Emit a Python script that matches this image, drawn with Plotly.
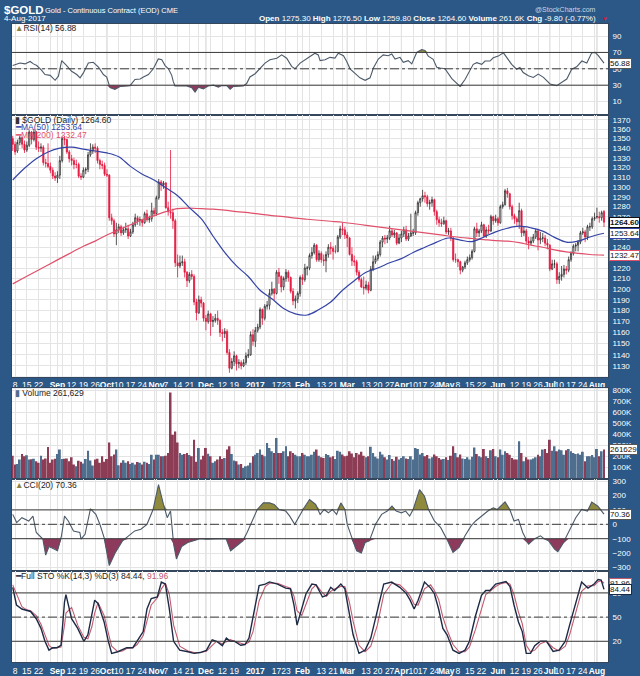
import numpy as np
import pandas as pd
import plotly.graph_objects as go

# ---------------- categories (trading days) ----------------
START, END = "2016-08-05", "2017-08-04"
HOLIDAYS = ["2016-09-05", "2016-11-24", "2016-12-26", "2017-01-02", "2017-01-16",
            "2017-02-20", "2017-04-14", "2017-05-29", "2017-07-04"]
dates = pd.bdate_range(START, END).drop(pd.to_datetime(HOLIDAYS))
N = len(dates)
DAY = list(range(N))

# ---------------- price data ----------------
OPEN = [1350,1344,1337,1346,1351,1344,1338,1343,1357,1349,
        1357,1341,1340,1341,1325,1324,1321,1317,1311,1309,
        1312,1327,1350,1349,1336,1329,1327,1323,1323,1311,
        1310,1317,1318,1333,1337,1341,1340,1327,1323,1322,
        1313,1312,1269,1266,1253,1257,1260,1254,1257,1258,
        1251,1255,1262,1269,1266,1267,1264,1273,1267,1268,
        1276,1273,1289,1305,1302,1304,1279,1275,1274,1266,
        1225,1222,1225,1226,1216,1208,1214,1212,1188,1178,
        1190,1187,1173,1170,1177,1170,1171,1173,1171,1160,
        1159,1161,1142,1128,1134,1139,1132,1133,1130,1133,
        1139,1140,1158,1152,1162,1165,1181,1173,1184,1185,
        1196,1200,1196,1216,1212,1202,1210,1216,1211,1198,
        1189,1191,1196,1211,1209,1220,1220,1232,1235,1242,
        1228,1234,1228,1227,1233,1240,1239,1236,1236,1250,
        1258,1257,1252,1249,1233,1227,1226,1216,1209,1202,
        1201,1204,1199,1219,1226,1229,1233,1245,1249,1248,
        1249,1256,1252,1254,1244,1249,1253,1257,1248,1251,
        1254,1254,1274,1284,1288,1291,1290,1283,1284,1287,
        1275,1267,1264,1263,1266,1255,1256,1249,1228,1228,
        1226,1218,1221,1225,1228,1230,1236,1258,1254,1256,
        1262,1251,1257,1256,1270,1266,1268,1264,1280,1282,
        1296,1293,1280,1271,1268,1265,1276,1254,1256,1246,
        1244,1246,1250,1256,1247,1249,1249,1244,1242,1219,
        1224,1224,1209,1212,1214,1219,1218,1228,1234,1241,
        1242,1245,1254,1255,1250,1260,1260,1268,1270,1270,
        1269,1275.3]
HIGH = [1353,1347,1349,1353,1352,1348,1347,1359,1358,1360,
        1358,1347,1345,1343,1329,1345,1325,1320,1315,1316,
        1332,1352,1353,1350,1338,1333,1330,1328,1325,1314,
        1320,1320,1336,1345,1344,1345,1342,1329,1327,1325,
        1318,1313,1273,1268,1264,1263,1262,1260,1264,1262,
        1258,1265,1273,1271,1270,1268,1275,1277,1271,1284,
        1279,1291,1308,1307,1306,1305,1285,1338,1278,1268,
        1233,1232,1232,1229,1217,1216,1218,1214,1191,1194,
        1193,1188,1176,1180,1178,1175,1177,1180,1172,1163,
        1164,1163,1145,1137,1143,1140,1136,1135,1136,1142,
        1145,1161,1163,1165,1168,1183,1182,1186,1189,1200,
        1207,1201,1218,1220,1213,1212,1219,1218,1212,1201,
        1194,1198,1213,1214,1224,1222,1234,1240,1244,1243,
        1237,1236,1233,1236,1243,1245,1241,1242,1252,1261,
        1264,1260,1255,1250,1240,1232,1228,1218,1211,1212,
        1208,1207,1222,1232,1232,1236,1247,1251,1252,1252,
        1261,1258,1257,1255,1253,1256,1260,1261,1254,1273,
        1258,1276,1286,1289,1297,1295,1292,1287,1290,1288,
        1277,1270,1268,1270,1267,1259,1259,1250,1234,1229,
        1227,1222,1227,1231,1233,1238,1260,1264,1258,1265,
        1263,1260,1262,1272,1271,1272,1270,1282,1285,1298,
        1299,1294,1282,1273,1270,1284,1278,1260,1258,1250,
        1250,1253,1258,1258,1255,1254,1252,1248,1243,1228,
        1228,1226,1216,1222,1223,1222,1231,1236,1243,1244,
        1247,1256,1259,1257,1262,1264,1270,1274,1279,1275,
        1276,1276.5]
LOW = [1337,1333,1335,1343,1340,1335,1336,1341,1344,1347,
       1338,1336,1336,1322,1320,1319,1314,1308,1306,1304,
       1308,1325,1343,1334,1325,1322,1318,1319,1309,1307,
       1309,1313,1315,1331,1334,1335,1324,1318,1318,1311,
       1310,1266,1262,1250,1242,1254,1251,1252,1254,1248,
       1250,1253,1260,1262,1261,1260,1263,1265,1264,1265,
       1270,1271,1287,1296,1298,1278,1271,1268,1258,1221,
       1211,1220,1222,1211,1202,1206,1209,1185,1171,1177,
       1183,1170,1162,1168,1157,1165,1169,1167,1156,1152,
       1155,1140,1124,1127,1130,1126,1128,1127,1129,1131,
       1137,1139,1148,1147,1160,1163,1167,1171,1181,1181,
       1194,1190,1195,1205,1197,1199,1207,1207,1196,1185,
       1182,1187,1193,1204,1207,1213,1218,1229,1233,1226,
       1226,1225,1222,1216,1230,1233,1228,1234,1235,1248,
       1252,1248,1240,1232,1222,1222,1213,1207,1201,1195,
       1199,1196,1198,1217,1224,1227,1231,1240,1243,1244,
       1247,1250,1249,1242,1243,1245,1250,1246,1246,1250,
       1251,1252,1271,1280,1285,1284,1280,1277,1280,1271,
       1262,1260,1260,1262,1253,1252,1246,1226,1225,1221,
       1214,1216,1219,1223,1226,1228,1235,1250,1250,1254,
       1249,1249,1253,1255,1262,1264,1261,1263,1278,1281,
       1289,1277,1267,1263,1261,1258,1250,1251,1243,1238,
       1242,1244,1248,1237,1243,1245,1241,1238,1217,1218,
       1220,1205,1205,1208,1211,1214,1216,1226,1232,1236,
       1236,1243,1252,1245,1247,1256,1258,1266,1268,1264,
       1266,1259.8]
CLOSE = [1344,1336,1346,1351,1344,1338,1343,1357,1349,1357,
         1341,1340,1341,1325,1324,1321,1317,1311,1309,1312,
         1327,1350,1349,1336,1329,1327,1323,1323,1311,1310,
         1317,1318,1333,1337,1341,1340,1327,1323,1322,1313,
         1312,1269,1266,1253,1257,1260,1254,1257,1258,1251,
         1255,1262,1269,1266,1267,1264,1273,1267,1268,1276,
         1273,1289,1305,1302,1304,1279,1275,1274,1266,1225,
         1222,1225,1226,1216,1208,1214,1212,1188,1178,1190,
         1187,1173,1170,1177,1170,1171,1173,1171,1160,1159,
         1161,1142,1128,1134,1139,1132,1133,1130,1133,1139,
         1140,1158,1152,1162,1165,1181,1173,1184,1185,1196,
         1200,1196,1216,1212,1202,1210,1216,1211,1198,1189,
         1191,1196,1211,1209,1220,1220,1232,1235,1242,1228,
         1234,1228,1227,1233,1240,1239,1236,1236,1250,1258,
         1257,1252,1249,1233,1227,1226,1216,1209,1202,1201,
         1204,1199,1219,1226,1229,1233,1245,1249,1248,1249,
         1256,1252,1254,1244,1249,1253,1257,1248,1251,1254,
         1254,1274,1284,1288,1291,1290,1283,1284,1287,1275,
         1267,1264,1263,1266,1255,1256,1249,1228,1228,1226,
         1218,1221,1225,1228,1230,1236,1258,1254,1256,1262,
         1251,1257,1256,1270,1266,1268,1264,1280,1282,1296,
         1293,1280,1271,1268,1265,1276,1254,1256,1246,1244,
         1246,1250,1256,1247,1249,1249,1244,1242,1219,1224,
         1224,1209,1212,1214,1219,1218,1228,1234,1241,1242,
         1245,1254,1255,1250,1260,1260,1268,1269,1270,1269,
         1274,1264.6]
VOLUME_K = [205,125,130,170,220,199,208,170,172,178,
            154,140,205,170,180,284,140,170,178,220,
            260,175,178,180,154,190,125,110,160,150,
            135,175,250,161,115,170,178,140,199,150,
            175,325,200,215,260,118,140,164,140,154,
            130,140,125,148,140,125,150,140,130,214,
            170,214,214,199,199,205,230,779,395,425,
            325,229,214,220,229,210,200,349,150,275,
            170,205,275,223,199,140,154,170,200,175,
            185,260,290,220,161,154,125,130,94,110,
            115,140,199,214,230,260,214,199,320,275,
            245,229,365,230,230,245,290,199,245,230,
            214,199,199,230,214,199,199,214,240,260,
            205,190,185,220,210,190,200,175,250,240,
            215,200,205,245,225,190,230,215,240,205,
            190,200,285,230,195,180,240,215,190,170,
            210,175,160,195,170,185,200,180,175,200,
            170,275,265,215,230,200,210,180,190,215,
            200,185,170,175,190,165,205,290,230,190,
            215,180,175,190,170,195,280,220,199,190,
            266,199,185,254,266,199,190,260,214,245,
            229,214,185,170,170,335,229,154,190,170,
            170,180,190,214,199,260,266,230,349,250,
            290,245,260,254,214,254,266,245,229,220,
            225,214,240,154,199,199,210,190,266,200,
            245,261.629]

# moving averages (sampled along the curves)
MA_DAY = [0,5,10,15,20,25,30,35,40,45,50,55,60,65,70,75,80,85,90,95,100,105,110,115,120,
          125,130,135,140,145,150,155,160,165,170,175,180,185,190,195,200,205,210,215,220,
          225,230,235,240,245,251]
MA50 = [1307,1319,1329,1336,1340,1341,1339,1337,1335,1331,1321,1313,1307,1299,1291,1279,1268,
        1251,1235,1222,1212,1199,1191,1182,1177,1176,1181,1188,1199,1208,1216,1220,1225,1229,
        1235,1240,1245,1249,1247,1245.5,1250,1255,1258.6,1260.6,1259,1255.7,1249.6,1245,1246,
        1250,1253.64]
MA200 = [1205,1211,1217,1223,1229,1235,1241,1246,1252,1257,1262,1267,1271,1275,1278,1278.5,1278,
         1277.5,1276.5,1275,1274,1272.5,1271,1270,1268.5,1267.5,1266.5,1265.5,1264.5,1263,1261.5,
         1260,1258.5,1257,1255.5,1254,1252.5,1251,1249.5,1248.5,1247.5,1246.5,1246,1244.5,1242,
         1240,1237.5,1235.5,1234,1233,1232.47]

# RSI(14)
RSI_DAY = [0,3.1,5.2,7.4,8.8,10.2,12.3,13.7,15.9,18,19.4,20.8,22.9,25,27.2,28.6,30,32.1,34.2,
           36.4,38.5,39.9,41.3,43.4,45.6,47.7,49.8,51.9,54.1,55.5,57.6,59.7,61.8,63.3,64.7,66.1,
           67.5,68.2,68.9,71.8,73.9,76,77.4,78.8,80.9,83,85.2,87.3,88.7,90.9,92.3,93.7,95.8,97.9,
           99.3,100.7,102.9,105,107.1,109.2,112.1,114.2,116.3,118.4,119.8,122,124.1,126.2,128.3,
           129.7,130.5,132.6,134.7,136.8,138.2,140.4,141.8,143.2,145.3,147.4,149.6,151.7,153.1,
           155.2,157.3,159.4,160.9,162.3,164.4,165.8,167.9,169.4,171.5,173.6,175,176.4,178.5,180,
           181.4,183.5,186.4,188.5,189.9,192,194.1,195.5,197,199.1,200.5,202.6,204,206.1,208.3,
           209.7,211.8,213.9,215.3,216.7,218.9,221,223.1,225.3,228.1,230.9,232.3,235.2,237.3,
           239.4,241.6,243.7,245.8,247.2,248.6,251]
RSI_VAL = [54,57,56,59,56,54,48,43,42,36,41,60,54,47,43,39,45,57,58,52,43,40,27,25,28.5,29,29.5,
           37,37.5,40,43,50,62,61,54,50,42,34,29,29,29,27,21.5,27.5,25.5,29,30,27.5,29.5,29.5,25,
           28.5,29,29,32,40,44,50,57,61,63,67,63,53,50,57,61,64,69,67,60,61,64,63,69,66,59,50,45,
           39,36,39,51,62,67,66,68,62,64,58,60,56,70,73.5,72.5,65.5,61.5,52,51,50,38,32,28.5,37,
           47.5,55.5,57.5,55.5,59.5,59.5,63.5,65.5,69.5,64,55.5,49.5,51.5,45.5,41.5,39.5,43.5,
           39.5,31.5,29.5,32,37.5,49.5,52.5,59.5,57,69.5,70,66,56.88]

# CCI(20)
CCI_DAY = [0,1.7,3.9,6.8,8.6,10,12.8,14,15.4,18,19,20.7,22,23.6,25.8,28.5,29,30.7,33,35.3,37,
           38.8,41,43.6,46.6,49.2,51.8,54.4,57,59.6,61.9,64,65.6,67,68.3,69.5,71.7,74.3,77,79.6,
           82,84.9,88,90.6,92.5,95,97.7,99.5,101,103.8,106.4,109,111,113,115.9,117.6,119.7,122,
           123.7,126,128.6,130.5,132.2,134,135.7,137.5,139.3,141,142,143.7,146,148,149.6,151.4,
           154,156.6,159,161,162.8,165,166.8,168.5,170,172.7,174.8,176.5,179,181.7,184.3,186.9,
           189.5,192,194.6,196.5,199,201.7,204,205.7,209,211,212.8,214.7,216.5,219,221.6,224,
           225.8,227.5,230,231.4,233.4,236,239,241.5,244,245.8,248.4,250,251]
CCI_VAL = [69,12,46,23,57,-57,-103,-214,-154,-172,-184,-80,57,23,-46,-57,-103,-69,108,69,0,
           -92,-287,-195,-115,-80,-46,-34,0,103,276,138,46,92,-138,-241,-154,-126,-115,-100,
           -103,-103,-103,-100,-184,-150,-115,-57,0,103,149,149,138,103,92,57,0,69,115,172,138,
           69,103,80,103,69,149,103,0,-80,-184,-200,-126,-115,0,69,92,126,92,80,92,57,103,241,
           195,103,23,-23,-103,-195,-160,-80,-11,23,57,92,115,103,156,103,23,34,-57,-138,-100,
           -80,-103,-115,-172,-190,-138,-57,46,103,92,154,126,92,70.36]

# Full STO %K(14,3) %D(3)
STO_DAY = [0,1.6,3.9,6,7.6,10,12,13.7,15.4,17,18.8,20.5,22,22.6,25,27.6,30.2,31.9,33.6,34.8,
           36.2,38.8,40.6,42,44.6,46.6,48.4,51,52.8,55.4,57,58.8,61.4,63.1,64.8,66.5,68.3,70.9,
           74.4,77,79.6,82.2,84.7,86.5,89,90.7,92.4,94.1,96.8,98.6,100.3,102,104.6,107.2,109,
           112.4,115.9,117.9,119.4,120.7,122.7,124.5,127,128.8,131.5,133.2,135,136.6,139.3,141,
           142.8,144.5,147,149.6,152,154.8,157.5,160.9,164.3,166.9,168.7,170.4,172.1,174.8,
           177.4,179,180.8,182.6,184.4,186.9,189.5,192,193.9,196.5,199,200.8,202.6,205,206.9,
           209.4,211.1,212.8,214.7,216.3,218,219.8,221.6,224,226.6,229.4,231.9,234.6,236.4,239,
           241.5,244.2,246.8,248.5,249.8,251]
STO_K = [87,65,60,58,57,48,36,20,9,12,12,15,69,78,48,36,20,28,52,71,67,44,20,5,7,10,12,12,20,
         32,60,73,75,93.5,91,60,20,9,7,5,6,8.6,21.7,20,14.6,24,20,20,15,16,24,48,89,91,93.7,91,
         86,85,65,40,60,79,91,90,75,77,87,83,91,85,56,28,5,9,24,60,91,93.5,87,80,71,60,71,93.5,
         86,79,60,36,28,9,5,9,20,52,77,83,83,91,92,94,88,65,44,32,5,5,14.6,20,20,7.4,9,20,40,
         69,93.5,86,91,96.7,96,84.44]
STO_D = [90,78,63,59,58,52,41,28,15,11,12,13,40,55,62,40,25,23,38,55,68,52,30,14,7,8,11,12,
         16,27,45,65,74,85,92,78,40,14,8,6,6,7.5,15,20,17,20,22,20,17,16,19,32,70,88,92,92,88,
         86,76,58,52,66,85,90,80,76,82,85,88,88,70,45,15,7,14,40,78,92,90,83,76,66,65,85,90,83,
         72,50,34,16,7,7,13,35,62,78,82,88,91,93,91,78,56,42,15,7,9,17,20,12,8,14,28,55,82,89,
         89,94,95,91.96]

# x-axis tick labels
TICK_DATES = ["2016-08-08", "2016-08-15", "2016-08-22", "2016-09-01", "2016-09-12", "2016-09-19",
              "2016-09-26", "2016-10-03", "2016-10-10", "2016-10-17", "2016-10-24", "2016-11-01",
              "2016-11-07", "2016-11-14", "2016-11-21", "2016-12-01", "2016-12-12", "2016-12-19",
              "2017-01-03", "2017-01-17", "2017-01-23", "2017-02-01", "2017-02-13", "2017-02-21",
              "2017-03-01", "2017-03-13", "2017-03-20", "2017-03-27", "2017-04-03", "2017-04-10",
              "2017-04-17", "2017-04-24", "2017-05-01", "2017-05-08", "2017-05-15", "2017-05-22",
              "2017-06-01", "2017-06-12", "2017-06-19", "2017-06-26", "2017-07-03", "2017-07-10",
              "2017-07-17", "2017-07-24", "2017-08-01"]
TICK_TEXT = ["8", "15", "22", "Sep", "12", "19", "26", "Oct", "10", "17", "24", "Nov", "7", "14",
             "21", "Dec", "12", "19", "2017", "17", "23", "Feb", "13", "21", "Mar", "13", "20",
             "27", "Apr", "10", "17", "24", "May", "8", "15", "22", "Jun", "12", "19", "26", "Jul",
             "10", "17", "24", "Aug"]

# ---------------- styling ----------------
BG = "#2b5886"
FONT = "Liberation Sans, Arial, sans-serif"
OLIVE = "#8f8a3e"
MAROON = "#8e3a5c"
LINE = "#4c5a6a"
W, H = 640, 676
X0, X1 = 12 / W, 608 / W
XR = [-0.3, 252.7]


def py(y):
    return 1 - y / H


DOM = {
    "rsi": [py(112.7), py(20.7)],
    "main": [py(376.7), py(112.7)],
    "vol": [py(480), py(388)],
    "cci": [py(572), py(480)],
    "sto": [py(664.3), py(572)],
}

dix = {d: i for i, d in enumerate(dates.strftime("%Y-%m-%d"))}
label_idx = [dix[d] for d in TICK_DATES]
label_map = {i: t for i, t in zip(label_idx, TICK_TEXT)}
month_idx = [i for i, t in zip(label_idx, TICK_TEXT) if not t.isdigit() or t == "2017"]
week_idx = [i for i in range(N) if i == 0 or dates[i].weekday() < dates[i - 1].weekday()]
tickvals = sorted(set(week_idx) | set(label_idx))
ticktext = []
for i in tickvals:
    t = label_map.get(i, "")
    if t and (not t.isdigit() or t == "2017"):
        t = "<b>" + t + "</b>"
    ticktext.append(t)

fig = go.Figure()

# ---------------- RSI panel ----------------
rsi = np.array(RSI_VAL, dtype=float)
fig.add_trace(go.Scatter(x=RSI_DAY, y=[70] * len(rsi), mode="lines", line=dict(width=0),
                         xaxis="x", yaxis="y", hoverinfo="skip"))
fig.add_trace(go.Scatter(x=RSI_DAY, y=np.maximum(rsi, 70), mode="lines", line=dict(width=0),
                         fill="tonexty", fillcolor=OLIVE, xaxis="x", yaxis="y", hoverinfo="skip"))
fig.add_trace(go.Scatter(x=RSI_DAY, y=[30] * len(rsi), mode="lines", line=dict(width=0),
                         xaxis="x", yaxis="y", hoverinfo="skip"))
fig.add_trace(go.Scatter(x=RSI_DAY, y=np.minimum(rsi, 30), mode="lines", line=dict(width=0),
                         fill="tonexty", fillcolor=MAROON, xaxis="x", yaxis="y", hoverinfo="skip"))
fig.add_trace(go.Scatter(x=RSI_DAY, y=rsi, mode="lines", line=dict(color=LINE, width=1.1),
                         xaxis="x", yaxis="y"))

# ---------------- price panel ----------------
fig.add_trace(go.Candlestick(x=DAY, open=OPEN, high=HIGH, low=LOW, close=CLOSE,
                             increasing=dict(line=dict(color="#2a2a2a", width=0.8), fillcolor="white"),
                             decreasing=dict(line=dict(color="#e3173e", width=0.8), fillcolor="#e3173e"),
                             whiskerwidth=0, xaxis="x2", yaxis="y2"))
fig.add_trace(go.Scatter(x=MA_DAY, y=MA200, mode="lines", line=dict(color="#e0506a", width=1.2),
                         line_shape="spline", xaxis="x2", yaxis="y2"))
fig.add_trace(go.Scatter(x=MA_DAY, y=MA50, mode="lines", line=dict(color="#3444a6", width=1.2),
                         line_shape="spline", xaxis="x2", yaxis="y2"))

# ---------------- volume panel ----------------
vcol = []
for i in range(N):
    prev = CLOSE[i - 1] if i > 0 else OPEN[0]
    vcol.append("#4f6e8e" if CLOSE[i] >= prev else "#8c3c55")
fig.add_trace(go.Bar(x=DAY, y=[v * 1000 for v in VOLUME_K], marker=dict(color=vcol, line=dict(width=0)),
                     xaxis="x3", yaxis="y3"))

# ---------------- CCI panel ----------------
cci = np.array(CCI_VAL, dtype=float)
fig.add_trace(go.Scatter(x=CCI_DAY, y=[100] * len(cci), mode="lines", line=dict(width=0),
                         xaxis="x4", yaxis="y4", hoverinfo="skip"))
fig.add_trace(go.Scatter(x=CCI_DAY, y=np.maximum(cci, 100), mode="lines", line=dict(width=0),
                         fill="tonexty", fillcolor=OLIVE, xaxis="x4", yaxis="y4", hoverinfo="skip"))
fig.add_trace(go.Scatter(x=CCI_DAY, y=[-100] * len(cci), mode="lines", line=dict(width=0),
                         xaxis="x4", yaxis="y4", hoverinfo="skip"))
fig.add_trace(go.Scatter(x=CCI_DAY, y=np.minimum(cci, -100), mode="lines", line=dict(width=0),
                         fill="tonexty", fillcolor=MAROON, xaxis="x4", yaxis="y4", hoverinfo="skip"))
fig.add_trace(go.Scatter(x=CCI_DAY, y=cci, mode="lines", line=dict(color=LINE, width=1.1),
                         xaxis="x4", yaxis="y4"))

# ---------------- STO panel ----------------
fig.add_trace(go.Scatter(x=STO_DAY, y=STO_D, mode="lines", line=dict(color="#c25a70", width=1.1),
                         xaxis="x5", yaxis="y5"))
fig.add_trace(go.Scatter(x=STO_DAY, y=STO_K, mode="lines", line=dict(color="#1d2a45", width=1.4),
                         xaxis="x5", yaxis="y5"))

# ---------------- axes ----------------
tickfont = dict(family=FONT, size=8, color="white")
GRID = "#e4e4e4"
FRAME = "#34475c"


def xax(anchor, labels):
    return dict(domain=[X0, X1], anchor=anchor, range=XR, tickvals=tickvals, ticktext=ticktext,
                showticklabels=labels, tickangle=0,
                tickfont=dict(family=FONT, size=8.5, color="white"),
                ticks="", showgrid=True, gridcolor=GRID, gridwidth=1, zeroline=False,
                showline=True, linecolor=FRAME, mirror=True, fixedrange=True)


def yax(anchor, dom, rng, tv, tt=None, typ="linear"):
    d = dict(domain=dom, anchor=anchor, range=rng, side="right", tickvals=tv, tickfont=tickfont,
             ticks="outside", ticklen=2, tickcolor=BG, showgrid=True, gridcolor=GRID,
             zeroline=False, showline=True, linecolor=FRAME, mirror=True, type=typ,
             fixedrange=True)
    if tt is not None:
        d["ticktext"] = tt
    return d


price_ticks = list(range(1130, 1371, 10))
vol_ticks = [k * 100000 for k in range(1, 9)]
layout = dict(
    width=W, height=H, autosize=False, margin=dict(l=0, r=0, t=0, b=0),
    paper_bgcolor=BG, plot_bgcolor="white", showlegend=False,
    font=dict(family=FONT, size=8.5, color="#222"), bargap=0.18,
    xaxis=xax("y", False), xaxis2=xax("y2", True), xaxis3=xax("y3", False),
    xaxis4=xax("y4", False), xaxis5=xax("y5", True),
    yaxis=yax("x", DOM["rsi"], [-6.24, 105.27], [10, 30, 50, 70, 90]),
    yaxis2=yax("x2", DOM["main"], [3.049368, 3.138407], price_ticks,
               [str(v) for v in price_ticks], typ="log"),
    yaxis3=yax("x3", DOM["vol"], [-10800, 818000], vol_ticks,
               ["%dK" % (v // 1000) for v in vol_ticks]),
    yaxis4=yax("x4", DOM["cci"], [-322.8, 311.7], [-300, -200, -100, 0, 100, 200, 300]),
    yaxis5=yax("x5", DOM["sto"], [-6.2, 107.5], [20, 50, 80]),
)
layout["xaxis2"]["rangeslider"] = dict(visible=False)
fig.update_layout(**layout)

# reference lines & month grid lines
shapes = []
for (xr, yr, lvls) in [("x", "y", [(70, "solid"), (30, "solid"), (50, "dashdot")]),
                       ("x4", "y4", [(100, "solid"), (-100, "solid"), (0, "dashdot")]),
                       ("x5", "y5", [(80, "solid"), (20, "solid"), (50, "dashdot")])]:
    for v, dsh in lvls:
        shapes.append(dict(type="line", xref=xr + " domain", yref=yr, x0=0, x1=1, y0=v, y1=v,
                           line=dict(color="#3a3a3a", width=1, dash=dsh), layer="above"))
for xr, yr in [("x", "y"), ("x2", "y2"), ("x3", "y3"), ("x4", "y4"), ("x5", "y5")]:
    for i in month_idx:
        shapes.append(dict(type="line", xref=xr, yref=yr + " domain", x0=i, x1=i, y0=0, y1=1,
                           line=dict(color="#c9c9c9", width=1), layer="below"))
fig.update_layout(shapes=shapes)

# ---------------- texts ----------------
ann = []


def A(x, y, text, size=8.5, color="#222", xanchor="left", **kw):
    ann.append(dict(x=x / W, y=py(y), xref="paper", yref="paper", text=text, showarrow=False,
                    xanchor=xanchor, yanchor="middle",
                    font=dict(family=FONT, size=size, color=color), **kw))


A(2, 7, "<b>$GOLD</b>", size=11.5, color="white")
A(43, 7.5, "Gold - Continuous Contract (EOD) CME", size=7.5, color="white")
A(598, 6.5, "@StockCharts.com", size=7, color="#c9d6e3", xanchor="right")
A(2, 16, "4-Aug-2017", size=8, color="white")
A(598, 16, "<b>Open</b> 1275.30 <b>High</b> 1276.50 <b>Low</b> 1259.80 <b>Close</b> 1264.60 "
           "<b>Volume</b> 261.6K <b>Chg</b> -9.80 (-0.77%)", size=8, color="white", xanchor="right")
A(600, 16.5, "▼", size=6, color="#e3173e")

A(13, 25.5, "<span style='color:#8a8440'>▲</span>RSI(14) 56.88")
A(13, 117.5, "<span style='color:#333'>▮</span> $GOLD (Daily) 1264.60")
A(13, 125.3, "<span style='color:#3444a6'>━</span>MA(50) 1253.64", color="#3444a6")
A(13, 133, "<span style='color:#e0506a'>━</span>MA(200) 1232.47", color="#e0506a")
A(13, 392.5, "<span style='color:#4f6e8e'>▮</span> Volume 261,629")
A(13, 485.5, "<span style='color:#8a8440'>▲</span>CCI(20) 70.36")
A(13, 577, "<span style='color:#1d2a45'>━</span>Full STO %K(14,3) %D(3) 84.44, "
           "<span style='color:#c25a70'>91.96</span>")


# value tags on the right axis
def TAG(yref, yval, text, border):
    ann.append(dict(x=609 / W, y=yval, xref="paper", yref=yref, text=text, showarrow=False,
                    xanchor="left", yanchor="middle", bgcolor="white", bordercolor=border,
                    borderwidth=1, borderpad=0, font=dict(family=FONT, size=8, color="#111")))


TAG("y", 56.88, "56.88", "#555")
TAG("y2", np.log10(1264.60), "<b>1264.60</b>", "#111")
TAG("y2", np.log10(1253.64), "1253.64", "#3444a6")
TAG("y2", np.log10(1232.47), "1232.47", "#e0506a")
TAG("y3", 261629, "261629", "#555")
TAG("y4", 70.36, "70.36", "#555")
TAG("y5", 91.96, "91.96", "#c25a70")
TAG("y5", 84.44, "84.44", "#1d2a45")

fig.update_layout(annotations=ann)
fig.write_html("out.html", config={"displayModeBar": False})
